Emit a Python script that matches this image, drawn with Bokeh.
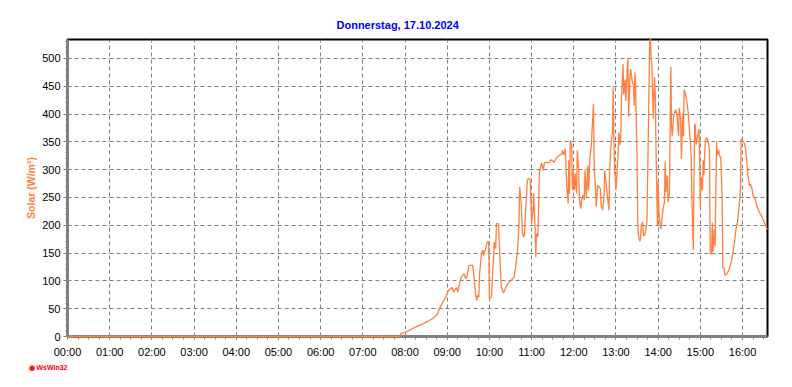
from bokeh.plotting import figure
from bokeh.models import Range1d, FixedTicker, Title
from bokeh.embed import file_html
from bokeh.resources import INLINE

# time in minutes since midnight, solar radiation in W/m²
minutes = [0, 473, 474, 481, 495, 509, 519, 526, 530, 538, 542, 547, 549, 553, 555, 557, 560, 564, 566, 568,
           571, 576, 578, 580, 582, 583, 585, 586, 589, 591, 592, 594, 597, 599, 600, 603, 604, 606, 607, 609,
           610, 613, 614, 616, 617, 620, 623, 628, 635, 637, 640, 642, 643, 645, 647, 649, 650, 651, 654, 656,
           658, 660, 662, 663, 665, 666, 667, 669, 671, 674, 677, 678, 685, 688, 692, 695, 699, 703, 704, 706,
           708, 710, 712, 713, 714, 715, 717, 718, 719, 721, 722, 724, 725, 727, 728, 730, 731, 733, 735, 736,
           738, 740, 741, 743, 745, 746, 748, 749, 751, 752, 754, 756, 758, 759, 761, 763, 764, 766, 768, 770,
           771, 773, 775, 776, 777, 778, 780, 781, 783, 784, 786, 787, 788, 790, 791, 793, 794, 796, 797, 798,
           800, 801, 803, 805, 806, 807, 808, 810, 811, 812, 814, 815, 816, 818, 819, 821, 822, 824, 826, 828,
           829, 830, 831, 833, 834, 835, 836, 837, 839, 840, 841, 843, 844, 845, 847, 849, 850, 851, 853, 854,
           856, 858, 859, 860, 862, 863, 865, 867, 869, 870, 872, 873, 875, 876, 877, 879, 881, 883, 884, 886,
           887, 888, 890, 891, 892, 893, 894, 896, 898, 899, 900, 901, 903, 904, 905, 907, 909, 911, 913, 914,
           916, 917, 918, 920, 921, 923, 924, 926, 927, 929, 931, 932, 934, 935, 938, 941, 944, 947, 949, 950,
           953, 955, 957, 958, 960, 962, 964, 966, 968, 970, 971, 973, 975, 978, 981, 984, 987, 989, 992, 994, 995]

solar = [0, 0, 5, 8, 17, 25, 32, 40, 53, 71, 83, 88, 80, 88, 80, 92, 107, 113, 104, 107,
         128, 128, 110, 80, 65, 74, 71, 113, 152, 155, 146, 155, 170, 170, 68, 71, 101, 143, 170, 158,
         203, 203, 167, 113, 89, 78, 88, 98, 106, 122, 155, 197, 269, 245, 185, 179, 185, 215, 281, 285,
         281, 203, 227, 257, 191, 143, 185, 179, 293, 312, 299, 312, 313, 318, 313, 320, 326, 327, 335, 326,
         338, 269, 239, 317, 257, 353, 344, 263, 299, 263, 293, 257, 335, 299, 245, 230, 245, 254, 245, 299,
         250, 308, 263, 322, 344, 371, 418, 305, 263, 233, 272, 269, 265, 236, 227, 250, 299, 275, 250, 227,
         299, 344, 367, 449, 362, 299, 264, 284, 326, 367, 344, 365, 434, 490, 435, 462, 424, 481, 499, 395,
         469, 481, 460, 449, 415, 475, 448, 314, 200, 182, 171, 176, 200, 206, 182, 182, 190, 204, 364, 530,
         535, 499, 493, 392, 433, 466, 431, 332, 200, 278, 224, 200, 193, 206, 229, 242, 314, 260, 290, 242,
         254, 485, 379, 360, 395, 401, 408, 395, 360, 411, 390, 319, 401, 360, 444, 435, 420, 400, 380, 346,
         322, 250, 155, 290, 383, 377, 345, 358, 373, 317, 230, 287, 263, 317, 290, 351, 358, 351, 336, 149,
         149, 205, 152, 193, 162, 351, 326, 335, 326, 322, 250, 125, 122, 110, 113, 122, 134, 155, 173, 188,
         208, 232, 262, 355, 352, 349, 340, 317, 286, 271, 274, 268, 253, 247, 232, 223, 217, 211, 202, 196, 192]

hour_ticks = [h * 60 for h in range(17)]
hour_labels = ["%02d:00" % h for h in range(17)]
y_ticks = list(range(0, 501, 50))

title_text = "Donnerstag, 17.10.2024"
y_label = "Solar (W/m²)"
logo_text = "◉ WsWin32"

FONT = "Liberation Sans"
LINE = "#FF7F3F"

p = figure(width=792, height=387, output_backend="svg", toolbar_location=None,
           x_range=Range1d(0, 995.5), y_range=Range1d(0, 534),
           min_border_left=67, min_border_right=25, min_border_top=39, min_border_bottom=51)

p.title.text = title_text
p.title.align = "left"
p.title.text_color = "#0000FF"
p.title.text_font = FONT
p.title.text_font_size = "11px"
p.title.text_font_style = "bold"
p.title.offset = 269
p.title.standoff = 17

p.background_fill_color = "white"
p.border_fill_color = "white"
p.outline_line_color = "black"
p.outline_line_width = 2

# axes
p.xaxis.ticker = FixedTicker(ticks=hour_ticks, minor_ticks=list(range(0, 1000, 15)))
p.xaxis.major_label_overrides = {t: l for t, l in zip(hour_ticks, hour_labels)}
p.yaxis.ticker = FixedTicker(ticks=y_ticks, minor_ticks=list(range(0, 540, 10)))
p.yaxis.axis_label = y_label
p.yaxis.axis_label_text_color = LINE
p.yaxis.axis_label_text_font = FONT
p.yaxis.axis_label_text_font_size = "10.5px"
p.yaxis.axis_label_text_font_style = "bold"
p.yaxis.axis_label_standoff = 2

for ax in (p.xaxis[0], p.yaxis[0]):
    ax.axis_line_color = "#808080"
    ax.axis_line_width = 3
    ax.major_tick_line_color = "#808080"
    ax.minor_tick_line_color = "#808080"
    ax.major_label_text_font = FONT
    ax.major_label_text_font_size = "11px"
    ax.major_label_text_color = "black"

p.xaxis.major_tick_in = 3
p.xaxis.major_tick_out = 3
p.xaxis.minor_tick_in = 0
p.xaxis.minor_tick_out = 3
p.xaxis.major_label_standoff = 6
p.yaxis.major_tick_in = 0
p.yaxis.major_tick_out = 4
p.yaxis.minor_tick_in = 0
p.yaxis.minor_tick_out = 2
p.yaxis.major_label_standoff = 3

# grid
for g in (p.xgrid[0], p.ygrid[0]):
    g.grid_line_color = "#808080"
    g.grid_line_dash = "4 3"
    g.grid_line_width = 1
p.xgrid.ticker = FixedTicker(ticks=hour_ticks)
p.ygrid.ticker = FixedTicker(ticks=y_ticks)

r = p.line(minutes, solar, line_color=LINE, line_width=1.3)
r.level = "overlay"

# program logo
p.add_layout(Title(text=logo_text, align="left", offset=-39, text_color="#FF0000",
                   text_font=FONT, text_font_size="7px", text_font_style="bold", standoff=3), "below")

open("out.html", "w").write(file_html(p, INLINE))
